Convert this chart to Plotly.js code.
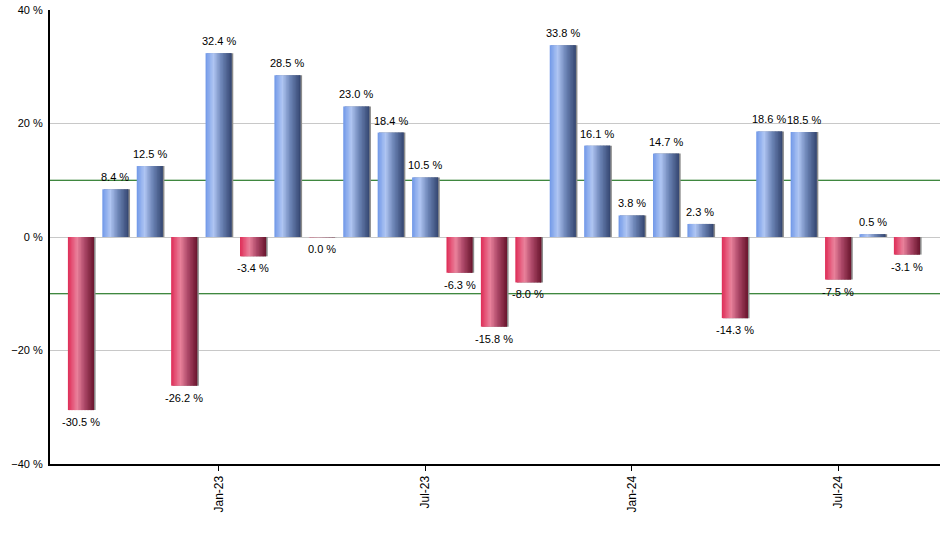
<!DOCTYPE html>
<html>
<head>
<meta charset="utf-8">
<script src="https://cdn.plot.ly/plotly-3.0.1.min.js"></script>
<style>html,body{margin:0;padding:0;background:#fff;}#chart{width:940px;height:550px;}</style>
</head>
<body>
<div id="chart"></div>
<script>
// ---- data ----
const months = ['2022-09','2022-10','2022-11','2022-12','2023-01','2023-02','2023-03','2023-04','2023-05','2023-06','2023-07','2023-08','2023-09','2023-10','2023-11','2023-12','2024-01','2024-02','2024-03','2024-04','2024-05','2024-06','2024-07','2024-08','2024-09'];
const returnsPct = [-30.5, 8.4, 12.5, -26.2, 32.4, -3.4, 28.5, -0.04, 23.0, 18.4, 10.5, -6.3, -15.8, -8.0, 33.8, 16.1, 3.8, 14.7, 2.3, -14.3, 18.6, 18.5, -7.5, 0.5, -3.1];
const tickMonths = ['2023-01','2023-07','2024-01','2024-07'];
const tickLabels = ['Jan-23','Jul-23','Jan-24','Jul-24'];
const refLines = [10, -10];

// ---- styling helpers ----
const xIdx = months.map((m, i) => i);
const blueStops = [[0, [112,152,232]], [0.3, [176,198,243]], [0.6, [110,134,184]], [1, [52,70,112]]];
const redStops  = [[0, [222,44,86]], [0.35, [234,130,156]], [0.65, [170,70,102]], [1, [104,20,44]]];
function grad(stops, t) {
  for (let k = 0; k < stops.length - 1; k++) {
    const [t0, c0] = stops[k], [t1, c1] = stops[k + 1];
    if (t >= t0 && t <= t1) {
      const f = (t - t0) / (t1 - t0);
      const c = c0.map((v, j) => Math.round(v + (c1[j] - v) * f));
      return 'rgb(' + c.join(',') + ')';
    }
  }
  return 'rgb(' + stops[stops.length - 1][1].join(',') + ')';
}

const BW = 0.76, N = 18, sw = BW / N;
const traces = [];
// shadow
traces.push({
  type: 'bar', x: xIdx, y: returnsPct, offset: -BW / 2 + 0.045, width: BW,
  marker: { color: 'rgb(140,140,140)', line: { width: 0 } }, hoverinfo: 'skip', showlegend: false
});
for (let s = 0; s < N; s++) {
  const t = (s + 0.5) / N;
  const colors = returnsPct.map(v => v >= 0 ? grad(blueStops, t) : grad(redStops, t));
  traces.push({
    type: 'bar', x: xIdx, y: returnsPct,
    offset: -BW / 2 + s * sw, width: s === N - 1 ? sw : sw * 1.6,
    marker: { color: colors, line: { width: 0 } }, hoverinfo: 'skip', showlegend: false
  });
}

const annotations = returnsPct.map((v, i) => ({
  x: i, y: v, xref: 'x', yref: 'y', showarrow: false,
  text: (Math.round(v * 10) / 10).toFixed(1) + ' %',
  yanchor: v >= 0 ? 'bottom' : 'top', yshift: v >= 0 ? 4 : -4,
  font: { family: 'Liberation Sans, Arial, sans-serif', size: 11, color: '#000' }
}));

const shapes = refLines.map(y => ({
  type: 'line', xref: 'paper', x0: 0, x1: 1, yref: 'y', y0: y, y1: y,
  line: { color: '#006000', width: 1 }, layer: 'below'
}));

const layout = {
  width: 940, height: 550,
  margin: { l: 50, r: 0, t: 10, b: 86 },
  paper_bgcolor: '#fff', plot_bgcolor: '#fff',
  barmode: 'overlay', showlegend: false,
  font: { family: 'Liberation Sans, Arial, sans-serif', size: 11, color: '#000' },
  xaxis: {
    range: [-0.9, 24.96], showgrid: false, zeroline: false,
    tickvals: tickMonths.map(m => months.indexOf(m)), ticktext: tickLabels,
    tickangle: -90, ticks: 'outside', ticklen: 5, tickcolor: '#000',
    showline: true, linecolor: '#000', linewidth: 2,
    tickfont: { size: 12 }, fixedrange: true
  },
  yaxis: {
    range: [-40, 40], dtick: 20, ticksuffix: ' %',
    showgrid: true, gridcolor: '#c8c8c8', gridwidth: 1,
    zeroline: true, zerolinecolor: '#c8c8c8', zerolinewidth: 1,
    showline: true, linecolor: '#000', linewidth: 2, ticks: '', ticklabelstandoff: 3,
    tickfont: { size: 11 }, fixedrange: true
  },
  shapes: shapes,
  annotations: annotations
};

Plotly.newPlot('chart', traces, layout, { displayModeBar: false, staticPlot: true });
</script>
</body>
</html>
